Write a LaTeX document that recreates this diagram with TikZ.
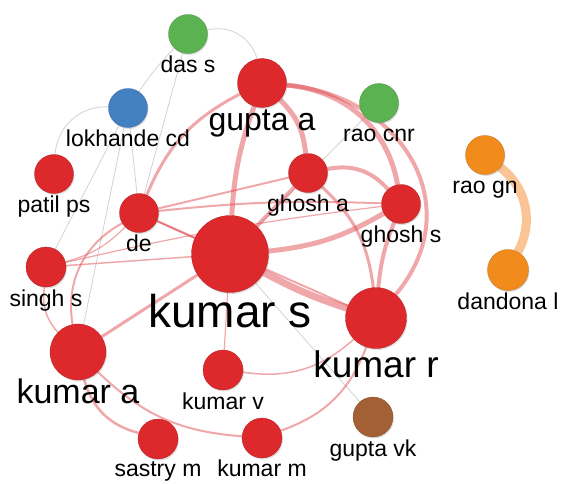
\documentclass[tikz,border=0pt]{standalone}
\usepackage{fontspec}
\setmainfont{Liberation Sans}
\usepackage{tikz}
\usetikzlibrary{positioning,backgrounds,shadows}
\definecolor{redcl}{RGB}{221,40,44}
\definecolor{greencl}{RGB}{90,178,80}
\definecolor{bluecl}{RGB}{66,128,193}
\definecolor{orangecl}{RGB}{240,139,28}
\definecolor{browncl}{RGB}{163,96,52}
\definecolor{tiered}{RGB}{225,80,85}
\definecolor{tieorange}{RGB}{250,196,148}
\tikzset{
    author/.style={
           circle,
           fill=#1, draw=#1!80!black, line width=0.3pt,
           inner sep=0pt,
           drop shadow={shadow xshift=1pt, shadow yshift=-1.5pt, opacity=0.25},
           },
}
\tikzset{
    tag/.style={
           inner sep=0pt,
           text height=16pt, text depth=5pt,
           font=\fontsize{23}{24}\selectfont,
           },
}
\tikzset{
    tie/.style={draw=tiered, opacity=0.5, line width=#1},
    tie/.default=2pt,
    faint/.style={draw=gray!35, line width=0.8pt},
}

\begin{document}
\begin{tikzpicture}[x=1pt,y=1pt]
\useasboundingbox (0,0) rectangle (564,483);
% authors
\node[author=greencl, minimum size=39pt](dass) at (188,449){};
\node[author=redcl, minimum size=49pt](guptaa) at (262,400){};
\node[author=bluecl, minimum size=39pt](lokhande) at (128,375){};
\node[author=greencl, minimum size=39pt](raocnr) at (379,380){};
\node[author=orangecl, minimum size=39pt](raogn) at (485,328){};
\node[author=orangecl, minimum size=41pt](dandona) at (508,213){};
\node[author=redcl, minimum size=39pt](patil) at (54,309){};
\node[author=redcl, minimum size=39pt](de) at (139,270){};
\node[author=redcl, minimum size=39pt](ghosha) at (308,310){};
\node[author=redcl, minimum size=39pt](ghoshs) at (401,279){};
\node[author=redcl, minimum size=77pt](kumars) at (230,229){};
\node[author=redcl, minimum size=40pt](singhs) at (46,216){};
\node[author=redcl, minimum size=56pt](kumara) at (78,131){};
\node[author=redcl, minimum size=61pt](kumarr) at (376,165){};
\node[author=redcl, minimum size=40pt](kumarv) at (223,113){};
\node[author=redcl, minimum size=40pt](sastrym) at (158,44){};
\node[author=redcl, minimum size=40pt](kumarm) at (262,45){};
\node[author=browncl, minimum size=40pt](guptavk) at (373,66){};
% labels
\node[tag, below=3pt of dass](dassl){das s};
\node[tag, font=\fontsize{32}{34}\selectfont, below=6.5pt of guptaa](guptaal){gupta a};
\node[tag, below=3pt of lokhande](lokhandel){lokhande cd};
\node[tag, below=3pt of raocnr](raocnrl){rao cnr};
\node[tag, below=3pt of raogn](raognl){rao gn};
\node[tag, below=3pt of dandona](dandonal){dandona l};
\node[tag, below=3pt of patil](patill){patil ps};
\node[tag, below=3pt of de](del){de};
\node[tag, below=3pt of ghosha](ghoshal){ghosh a};
\node[tag, below=3pt of ghoshs](ghoshsl){ghosh s};
\node[tag, font=\fontsize{46}{48}\selectfont, below=18.5pt of kumars](kumarsl){kumar s};
\node[tag, below=3pt of singhs](singhsl){singh s};
\node[tag, font=\fontsize{34}{36}\selectfont, below=7pt of kumara](kumaral){kumar a};
\node[tag, font=\fontsize{37}{39}\selectfont, below=12.5pt of kumarr](kumarrl){kumar r};
\node[tag, below=3pt of kumarv](kumarvl){kumar v};
\node[tag, below=1pt of sastrym](sastryml){sastry m};
\node[tag, below=2pt of kumarm](kumarml){kumar m};
\node[tag, below=3pt of guptavk](guptavkl){gupta vk};
% links
\begin{pgfonlayer}{background}
\draw (dass)edge[faint, bend left=45](guptaa);
\draw (dass)edge[faint, bend right=5](lokhande);
\draw (dass)edge[faint](de);
\draw (lokhande)edge[faint, bend right=45](patil);
\draw (lokhande)edge[faint](de);
\draw (lokhande)edge[faint](singhs);
\draw (lokhande)edge[faint](kumara);
\draw (raocnr)edge[faint](kumars);
\draw (kumars)edge[faint](guptavk);
\draw (kumars)edge[tie=7pt, bend right=5](kumarr);
\draw (kumars)edge[tie=5pt, bend right=12](ghoshs);
\draw (kumars)edge[tie=4pt](ghosha);
\draw (kumars)edge[tie=5pt, bend left=8](guptaa);
\draw (guptaa)edge[tie=5pt, bend left=20](ghosha);
\draw (guptaa)edge[tie=5pt, out=-5, in=100](ghoshs);
\draw (guptaa)edge[tie=4pt, out=-5, in=50, looseness=1.25](kumarr);
\draw (ghosha)edge[tie=3pt, bend left=20](kumarr);
\draw (ghoshs)edge[tie=4pt, bend right=8](kumarr);
\draw (ghosha)edge[tie=4pt, bend left=30](ghoshs);
\draw (de)edge[tie, bend left=4](ghoshs);
\draw (de)edge[tie](ghosha);
\draw (de)edge[tie=3pt, bend left=20](guptaa);
\draw (de)edge[tie](kumars);
\draw (de)edge[tie](kumarr);
\draw (singhs)edge[tie=1.5pt](kumars);
\draw (singhs)edge[tie=1.2pt, bend left=3](ghoshs);
\draw (singhs)edge[tie=1.2pt, bend right=15](de);
\draw (kumara)edge[tie=3pt](kumars);
\draw (kumara)edge[tie, bend left=35](de);
\draw (kumara)edge[tie=1.5pt, bend left=25](singhs);
\draw (kumara)edge[tie=2.5pt, bend right=30](sastrym);
\draw (kumara)edge[tie, bend right=20](kumarm);
\draw (kumarm)edge[tie, bend right=25](kumarr);
\draw (kumarv)edge[tie=1.5pt, bend right=25](kumarr);
\draw (kumarv)edge[tie=1.2pt](kumars);
\draw (raogn)edge[draw=tieorange, line width=9pt, bend left=40](dandona);
\end{pgfonlayer}
\end{tikzpicture}
\end{document}
